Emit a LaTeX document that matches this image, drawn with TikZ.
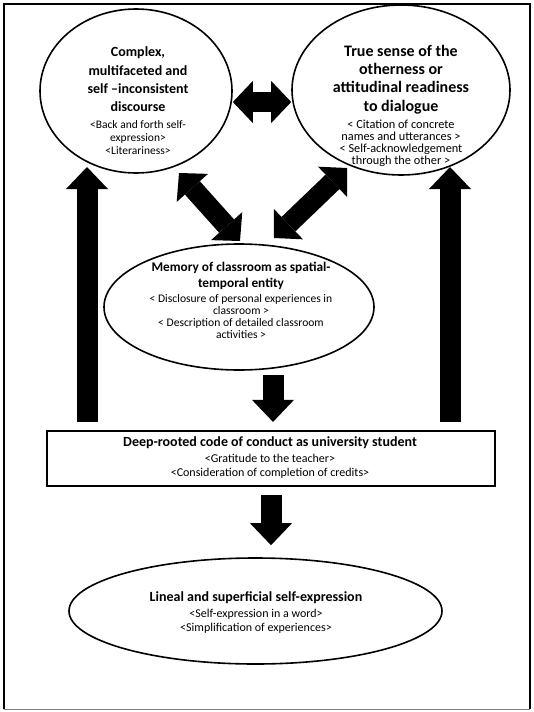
\documentclass[tikz,border=0pt]{standalone}
\usepackage{fontspec}
\setmainfont{Carlito}
\usetikzlibrary{shapes.geometric,arrows.meta,calc}
\begin{document}
\begin{tikzpicture}[x=1pt,y=-1pt,
  ell/.style={draw, ellipse, line width=1.6pt, inner sep=0pt},
  ttl/.style={align=center, inner sep=0pt, font=\bfseries\fontsize{14}{17.5}\selectfont},
  sub/.style={align=center, inner sep=0pt, font=\fontsize{12}{14.5}\selectfont},
  blk/.style={line width=21pt, -{Triangle[width=42pt,length=22pt,line width=0pt]}},
  dblk/.style={line width=20pt, {Triangle[width=42pt,length=20pt,line width=0pt]}-{Triangle[width=42pt,length=20pt,line width=0pt]}}
]
\useasboundingbox (0,0) rectangle (534,712);
% frame
\draw[line width=2.5pt] (4,709) -- (4,4) -- (530,4) -- (530,709);
\draw[gray, line width=1pt] (4,709.5) -- (530,709.5);

% nodes
\node[ell, minimum width=192pt, minimum height=164pt] (L) at (136,91) {};
\node[ttl, font=\bfseries\fontsize{14}{18.3}\selectfont] (Lt) at (138,79.5) {Complex,\\multifaceted and\\self –inconsistent\\discourse};
\node[sub, font=\fontsize{11.5}{13}\selectfont] (Ls) at (138,138) {<Back and forth self-\\expression>\\<Literariness>};

\node[ell, minimum width=218pt, minimum height=170pt] (R) at (401,90) {};
\node[ttl, font=\bfseries\fontsize{16}{18.3}\selectfont] (Rt) at (401,79.5) {True sense of the\\otherness or\\attitudinal readiness\\to dialogue};
\node[sub, font=\fontsize{12.3}{12}\selectfont] (Rs) at (401,143) {< Citation of concrete\\names and utterances >\\< Self-acknowledgement\\through the other >};

\node[ell, minimum width=270pt, minimum height=126pt] (M) at (239,307) {};
\node[ttl, font=\bfseries\fontsize{13.3}{16.5}\selectfont] (Mt) at (241,276) {Memory of classroom as spatial-\\temporal entity};
\node[sub, font=\fontsize{11.6}{12.3}\selectfont] (Ms) at (241,316.5) {< Disclosure of personal experiences in\\classroom >\\< Description of detailed classroom\\activities >};

\node[draw, line width=2.2pt, minimum width=448pt, minimum height=55pt, inner sep=0pt] (C) at (271,458.5) {};
\node[ttl] (Ct) at (270,443) {Deep-rooted code of conduct as university student};
\node[sub] (Cs) at (270,466.5) {<Gratitude to the teacher>\\<Consideration of completion of credits>};

\node[ell, minimum width=373pt, minimum height=106pt] (B) at (255.5,611) {};
\node[ttl] (Bt) at (256,598) {Lineal and superficial self-expression};
\node[sub] (Bs) at (256,621.5) {<Self-expression in a word>\\<Simplification of experiences>};

% arrow end points
\coordinate (h1) at (L.east |- 0,102);
\coordinate (h2) at (R.west |- 0,102);
\coordinate (d1a) at (179,173);
\coordinate (d1b) at (240,241);
\coordinate (d2a) at (347,168);
\coordinate (d2b) at (274,238);
\coordinate (vl) at (87,167);
\coordinate (vr) at (450,167);

% connectors
\draw[dblk] (h1) -- (h2);
\draw[dblk] (d1a) -- (d1b);
\draw[dblk] (d2a) -- (d2b);
\draw[blk, shorten <=8pt] (C.north -| vl) -- (vl);
\draw[blk, shorten <=8pt] (C.north -| vr) -- (vr);
\draw[blk, shorten <=4pt, shorten >=8pt] (M.south -| 273,0) -- (C.north -| 273,0);
\draw[blk, shorten <=8pt, shorten >=12pt] (C.south -| 271,0) -- (B.north -| 271,0);
\end{tikzpicture}
\end{document}
